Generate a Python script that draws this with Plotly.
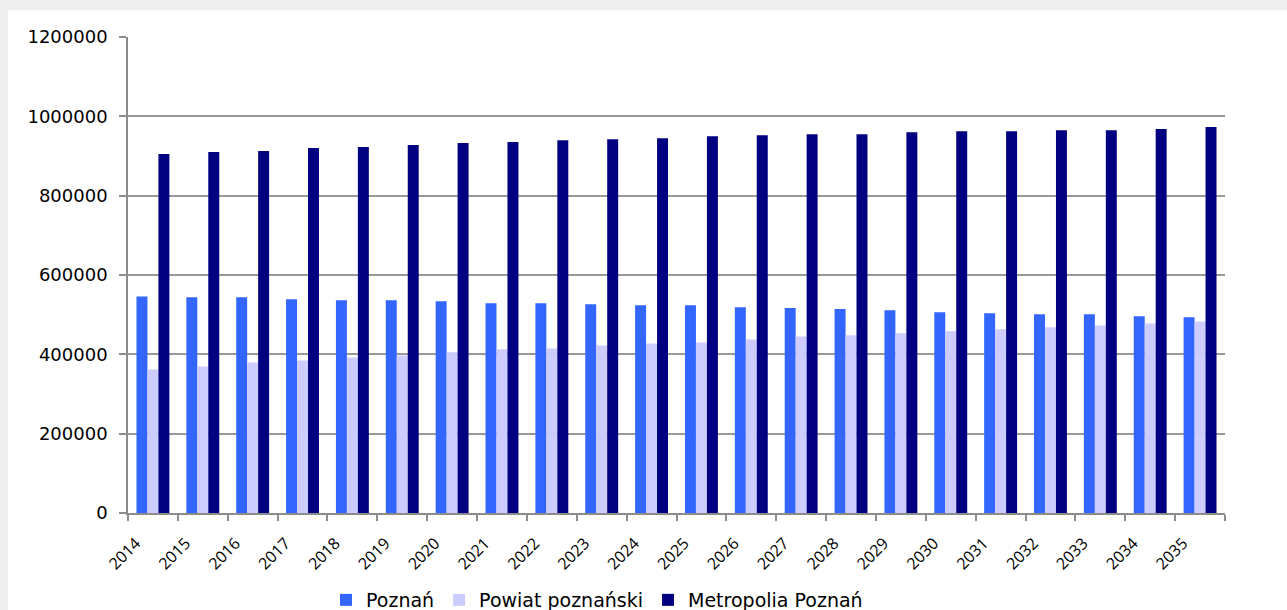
import plotly.graph_objects as go

years = [str(y) for y in range(2014, 2036)]
poznan = [546000, 544000, 544000, 539000, 536500, 536500, 534000, 529000, 529000, 526500, 524000,
          524000, 519000, 516500, 514000, 511000, 506000, 503500, 501000, 501000, 496000, 493500]
powiat = [362000, 369500, 379500, 384500, 392000, 397000, 405000, 412500, 415000, 422500, 427500,
          430000, 437500, 445000, 448000, 453000, 458000, 463000, 468000, 473000, 478000, 483000]
metro = [905000, 910000, 912500, 920000, 922500, 927500, 932500, 935000, 940000, 942500, 945000,
         950000, 952500, 955000, 955000, 960000, 962500, 962500, 965000, 965000, 968000, 973000]
y_ticks = [0, 200000, 400000, 600000, 800000, 1000000, 1200000]

names = ["Poznań", "Powiat poznański", "Metropolia Poznań"]
colors = ["#3366FF", "#CCCCFF", "#000080"]

fig = go.Figure()
for name, vals, col in zip(names, [poznan, powiat, metro], colors):
    fig.add_trace(go.Bar(x=years, y=vals, name=name, marker=dict(color=col, line=dict(width=0))))

W, H = 1287, 610
L, R, T, B = 128, 62, 37, 97
pw, ph = W - L - R, H - T - B

def px_x(p):
    return (p - L) / pw

def px_y(p):
    return (H - B - p) / ph

fig.add_shape(type="rect", xref="paper", yref="paper",
              x0=px_x(8), x1=px_x(W + 5), y0=px_y(10), y1=px_y(H + 5),
              fillcolor="white", line=dict(width=0), layer="below")

fig.update_layout(
    width=W, height=H,
    margin=dict(l=L, r=R, t=T, b=B, autoexpand=False),
    paper_bgcolor="#eeeeee",
    plot_bgcolor="rgba(0,0,0,0)",
    barmode="group",
    bargap=0.34,
    bargroupgap=0,
    font=dict(family="DejaVu Sans", color="black"),
    showlegend=True,
    legend=dict(orientation="h", x=px_x(597), xanchor="center", y=px_y(600), yanchor="middle",
                font=dict(size=19, family="DejaVu Sans", color="black"), bgcolor="rgba(0,0,0,0)",
                itemwidth=30, tracegroupgap=0),
)
fig.update_xaxes(
    type="category", range=[-0.5, 21.5], automargin=False,
    tickson="boundaries", ticks="outside", ticklen=6, tickcolor="#8c8c8c", tickwidth=1.5,
    showline=True, linecolor="#8c8c8c", linewidth=1.5,
    showgrid=False, tickangle=-45,
    tickfont=dict(family="Open Sans", size=16, color="black"),
    ticklabelshift=-17, ticklabelstandoff=13,
)
fig.update_yaxes(
    range=[0, 1200000], tickvals=y_ticks, ticktext=[str(v) for v in y_ticks], automargin=False,
    ticks="outside", ticklen=7, tickcolor="#8c8c8c", tickwidth=1.5,
    showline=True, linecolor="#8c8c8c", linewidth=1.5,
    showgrid=True, gridcolor="#999999", gridwidth=1.5,
    zeroline=False,
    tickfont=dict(family="DejaVu Sans", size=18, color="black"),
    ticklabelstandoff=8,
)

fig.write_html("out.html")
